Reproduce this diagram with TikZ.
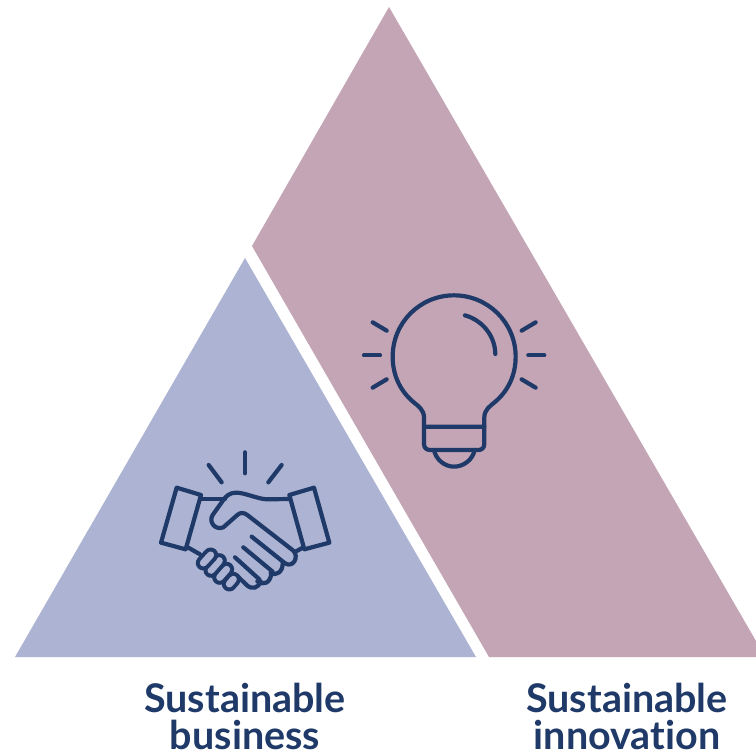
\documentclass[tikz,border=0pt]{standalone}
\usepackage{fontspec}
\setmainfont{Lato}[BoldFont={Lato Bold},Ligatures=NoCommon]
\definecolor{bluefill}{HTML}{ADB4D3}
\definecolor{mauvefill}{HTML}{C3A5B5}
\definecolor{navy}{HTML}{1F3A68}
\tikzset{
  icon/.style={draw=navy,line width=4.2pt,line cap=round,line join=round},
  capout/.style={draw=navy,line width=15pt,line cap=round},
  capin/.style={draw=bluefill,line width=7pt,line cap=round},
  caption/.style={text=navy,font=\fontsize{39.5}{40}\selectfont\bfseries,align=center,inner sep=0pt,anchor=base}
}
\newcommand{\fingercap}[2]{\draw[capout] #1 -- #2; \draw[capin] #1 -- #2;}
\begin{document}
\begin{tikzpicture}[x=1pt,y=-1pt]
\useasboundingbox (0,0) rectangle (756,753);
\fill[white] (0,0) rectangle (756,753);
\fill[bluefill] (245,258) -- (476,657) -- (15,657) -- cycle;
\fill[mauvefill] (389,7) -- (252,246) -- (489,657) -- (756,657) -- (756,641) -- cycle;
% handshake
\begin{scope}[shift={(150,440)},x=0.3333pt,y=-0.3333pt]
\draw[icon] (80,143) -- (153,165) -- (107,328) -- (33,308) -- cycle;
\draw[icon] (418,165) -- (492,143) -- (538,308) -- (463,328) -- cycle;
\draw[icon] (176,75) -- (215,127);
\draw[icon] (285,37) -- (285,100);
\draw[icon] (395,75) -- (355,127);
\draw[icon] (153,178) -- (225,178);
\draw[icon] (418,177) -- (350,178) .. controls (320,176) and (285,158) .. (258,158)
  .. controls (240,158) and (228,168) .. (220,180) -- (188,225)
  .. controls (175,245) and (195,272) .. (220,262) -- (262,225)
  .. controls (270,217) and (282,217) .. (292,225) -- (430,332)
  .. controls (448,350) and (430,385) .. (405,370);
\draw[icon] (305,290) -- (405,370);
\draw[icon] (280,322) -- (368,395);
\draw[icon] (398,368) .. controls (400,395) and (378,410) .. (362,398);
\draw[icon] (255,352) -- (328,418);
\draw[icon] (364,400) .. controls (362,428) and (340,438) .. (322,424);
\draw[icon] (262,408) -- (290,435) .. controls (305,450) and (325,445) .. (332,424);
\draw[icon] (110,320) -- (150,343);
\draw[icon] (460,322) -- (437,335);
\fingercap{(250,418)}{(238,432)}
\fingercap{(230,388)}{(209,412)}
\fingercap{(208,362)}{(183,391)}
\fingercap{(182,345)}{(160,369)}
\end{scope}
% bulb
\begin{scope}[shift={(350,280)},x=0.3333pt,y=-0.3333pt]
\draw[icon] (222,440) -- (222,412) .. controls (222,390) and (205,378) .. (190,366)
  .. controls (150,332) and (128,285) .. (128,230)
  .. controls (128,128) and (210,46) .. (312,46)
  .. controls (414,46) and (497,128) .. (497,230)
  .. controls (497,285) and (475,332) .. (435,366)
  .. controls (420,378) and (403,390) .. (403,412) -- (403,440);
\draw[icon] (222,440) -- (403,440) -- (403,492) .. controls (403,504) and (395,510) .. (385,510)
  -- (240,510) .. controls (230,510) and (222,504) .. (222,492) -- cycle;
\draw[icon] (252,510) .. controls (258,540) and (285,560) .. (312,560) .. controls (340,560) and (368,540) .. (374,510);
\draw[icon] (345,106) .. controls (395,120) and (435,165) .. (436,222);
\draw[icon] (68,127) -- (110,152);
\draw[icon] (42,226) -- (90,226);
\draw[icon] (68,323) -- (110,298);
\draw[icon] (515,152) -- (557,127);
\draw[icon] (535,226) -- (583,226);
\draw[icon] (515,298) -- (557,323);
\end{scope}
\node[caption] (b1) at (245,712) {Sustainable};
\node[caption] (b2) at (245,749.5) {business};
\node[caption] (i1) at (627,712) {Sustainable};
\node[caption] (i2) at (627,749.5) {innovation};
\end{tikzpicture}
\end{document}
